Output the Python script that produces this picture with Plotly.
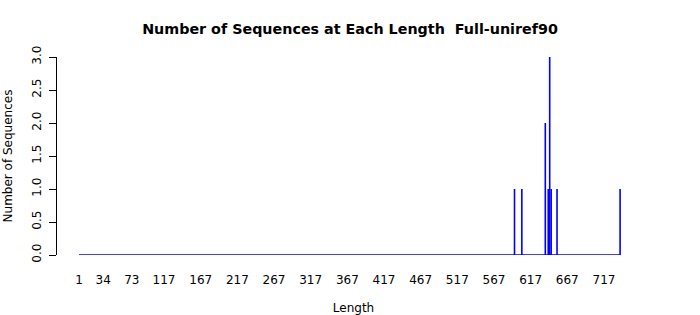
import plotly.graph_objects as go

# Data
max_length = 739
bar_lengths = [595, 605, 637, 641, 643, 645, 653, 739]
bar_counts = [1, 1, 2, 1, 3, 1, 1, 1]
x_tick_labels = [1, 34, 73, 117, 167, 217, 267, 317, 367, 417, 467, 517, 567, 617, 667, 717]
y_ticks = [0, 0.5, 1, 1.5, 2, 2.5, 3]

counts = {L: 0 for L in range(1, max_length + 1)}
for L, c in zip(bar_lengths, bar_counts):
    counts[L] = c

xs, ys = [], []
for L in sorted(counts):
    if counts[L] > 0:
        xs += [L, L, None]
        ys += [0, counts[L], None]

fig = go.Figure()
lengths = sorted(counts)
fig.add_trace(go.Scatter(x=lengths, y=[0] * len(lengths), mode="lines",
                         line=dict(color="#0000FF", width=1.3), hoverinfo="skip"))
fig.add_trace(go.Scatter(x=xs, y=ys, mode="lines",
                         line=dict(color="#0000FF", width=1.6)))

font = "DejaVu Sans, Arial, sans-serif"
fig.update_layout(
    width=700, height=315,
    margin=dict(l=57, r=50, t=57, b=60),
    paper_bgcolor="white", plot_bgcolor="white",
    showlegend=False,
    font=dict(family=font, size=12, color="black"),
    title=dict(text="<b>Number of Sequences at Each Length\u00a0\u00a0Full-uniref90</b>",
               x=0.5, xanchor="center", y=0.908, yanchor="middle",
               font=dict(size=14.3, family=font, color="black")),
    xaxis=dict(range=[-29, 779.8], showgrid=False, zeroline=False, showline=False,
               automargin=False,
               ticks="", tickvals=x_tick_labels, ticktext=[str(v) for v in x_tick_labels],
               ticklabelstandoff=16,
               title=dict(text="Length", standoff=20, font=dict(size=12))),
    yaxis=dict(range=[0, 3], showgrid=False, zeroline=False, showline=True,
               automargin=False,
               linecolor="black", linewidth=1, ticks="outside", ticklen=7,
               tickcolor="black", tickvals=y_ticks,
               ticktext=[f"{v:.1f}" for v in y_ticks], tickangle=-90,
               ticklabelstandoff=3,
               title=dict(text="Number of Sequences", standoff=15, font=dict(size=12))),
)

fig.write_html("out.html")
